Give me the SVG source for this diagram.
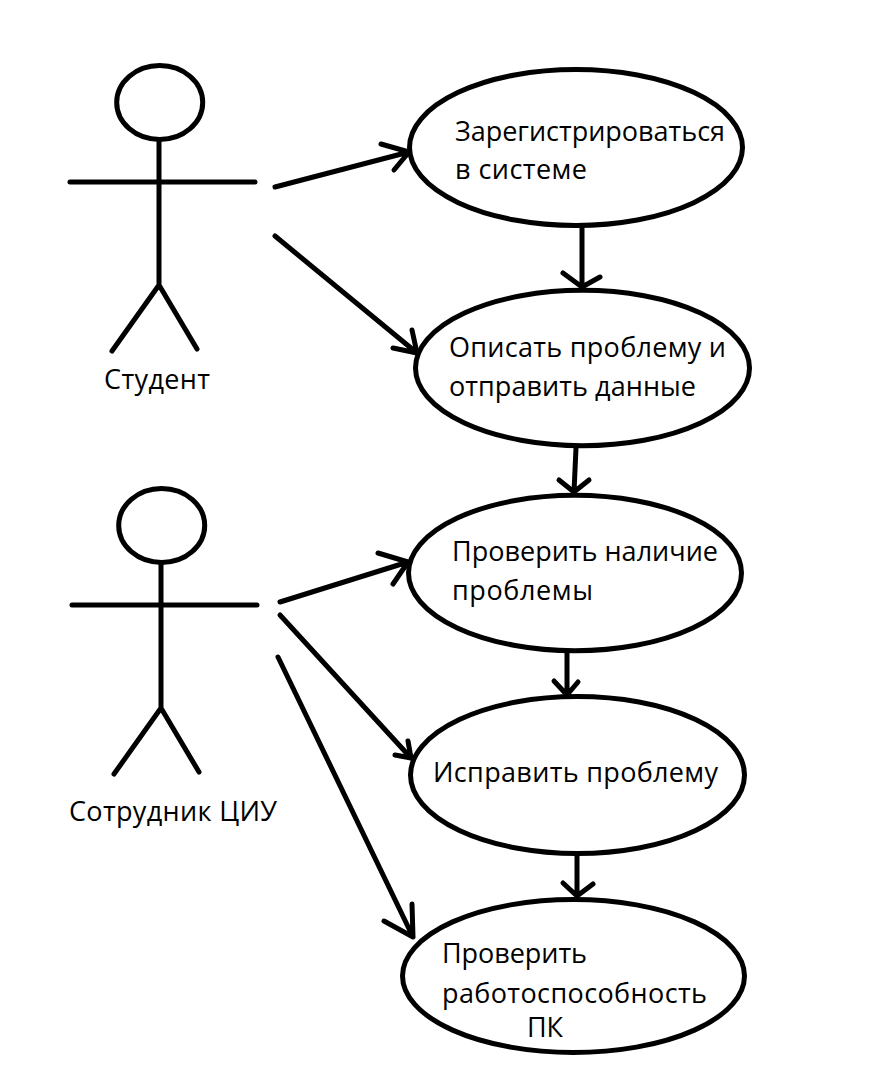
<svg xmlns="http://www.w3.org/2000/svg" width="870" height="1090" viewBox="0 0 870 1090">
<style>
.s{fill:none;stroke:#000;stroke-width:5;stroke-linecap:round;stroke-linejoin:round}
text{font-family:"Open Sans","Noto Sans","DejaVu Sans",sans-serif;font-size:27px;fill:#000}
</style>
<rect width="870" height="1090" fill="#fff"/>
<g id="connectors">
<path class="s" d="M275 187L409 152M381 144L409 152L394 170"/>
<path class="s" d="M275 236L417 353M412 330L417 353L393 348"/>
<path class="s" d="M582 226V287M563 273L582 287L600 277"/>
<path class="s" d="M576 448L574 492M559 480L574 492L589 480"/>
<path class="s" d="M280 602L408 562M378 553L408 562L393 584"/>
<path class="s" d="M280 615L411 758M408 741L411 758L395 755"/>
<path class="s" d="M278 657L413 937M412 904L413 937L384 921"/>
<path class="s" d="M567 651V695M554 681L567 695L578 682"/>
<path class="s" d="M577 854V896M563 883L577 896L593 884"/>
</g>
<g id="actor-student">
<ellipse class="s" cx="159.7" cy="102.5" rx="43" ry="37"/>
<path class="s" d="M159 140V285M70 182H255M159 285L112 351M159 285L197 349"/>
<text x="104" y="389" textLength="106">Студент</text>
</g>
<g id="actor-staff">
<ellipse class="s" cx="161.7" cy="525.5" rx="43" ry="37"/>
<path class="s" d="M161 563V708M72 605H257M161 708L114 774M161 708L199 772"/>
<text x="69" y="821" textLength="208">Сотрудник ЦИУ</text>
</g>
<g id="uc1"><ellipse class="s" cx="576" cy="147.5" rx="166.5" ry="78"/><text x="455" y="141" textLength="270">Зарегистрироваться</text><text x="455" y="179" textLength="132">в системе</text></g>
<g id="uc2"><ellipse class="s" cx="582.5" cy="368" rx="167" ry="77.7"/><text x="449" y="357" textLength="277">Описать проблему и</text><text x="449" y="396" textLength="247">отправить данные</text></g>
<g id="uc3"><ellipse class="s" cx="575" cy="573" rx="166.5" ry="77.7"/><text x="452" y="561" textLength="266">Проверить наличие</text><text x="452" y="600" textLength="141">проблемы</text></g>
<g id="uc4"><ellipse class="s" cx="577.5" cy="775" rx="167" ry="78.5"/><text x="433" y="782" textLength="285">Исправить проблему</text></g>
<g id="uc5"><ellipse class="s" cx="573.5" cy="976" rx="171" ry="76.5"/><text x="442" y="963" textLength="145">Проверить</text><text x="442" y="1003" textLength="265">работоспособность</text><text x="527" y="1037" textLength="36">ПК</text></g>
</svg>
